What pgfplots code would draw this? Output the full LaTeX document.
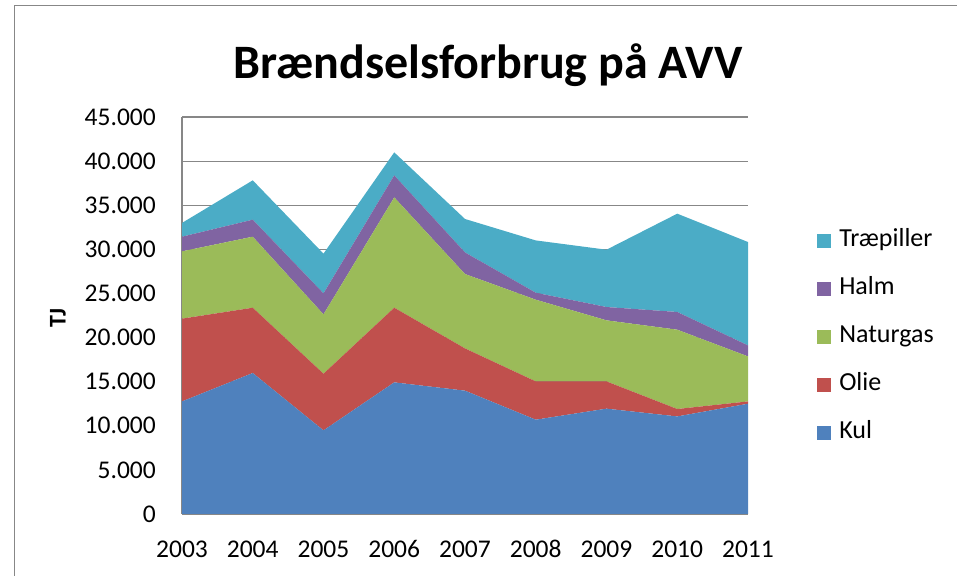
\documentclass[border=0pt]{standalone}
\usepackage{fontspec}
\setmainfont{Carlito}
\usepackage{pgfplots}
\pgfplotsset{compat=1.18}
\definecolor{kul}{HTML}{4F81BD}
\definecolor{olie}{HTML}{C0504D}
\definecolor{natur}{HTML}{9BBB59}
\definecolor{halm}{HTML}{8064A2}
\definecolor{trae}{HTML}{4BACC6}
\definecolor{gridc}{HTML}{878787}
\begin{document}
\begin{tikzpicture}[x=1pt,y=1pt]
\useasboundingbox (0,0) rectangle (957,575);
\draw[gridc, line width=1pt] (14,-5) -- (14,569) -- (970,569);
\node[font=\fontsize{48}{50}\selectfont\bfseries, anchor=base] at (488,496) {Brændselsforbrug på AVV};
\node[font=\fontsize{24}{26}\selectfont\bfseries, rotate=90] at (58,257) {TJ};
\begin{axis}[
  at={(182pt,61pt)}, anchor=south west,
  scale only axis, width=566pt, height=397pt,
  xmin=2003, xmax=2011, ymin=0, ymax=45000,
  xtick={2003,...,2011}, ytick={0,5000,...,45000},
  axis x line*=bottom, axis y line*=left,
  axis line style={gridc, line width=1.2pt, -},
  major tick length=0pt,
  ymajorgrids, grid style={gridc, line width=1.2pt},
  stack plots=y,
  ticklabel style={font=\fontsize{25.5}{28}\selectfont, inner sep=0pt},
  /pgf/number format/assume math mode=true,
  /pgf/number format/1000 sep={.},
  xticklabel style={/pgf/number format/1000 sep={}, anchor=base, yshift=-43pt},
  yticklabel style={xshift=-26pt},
  scaled y ticks=false,
  legend style={draw=none, fill=none, at={(axis description cs:1.122,0.717)}, anchor=north west,
    font=\fontsize{26}{28}\selectfont, row sep=26pt, inner sep=0pt,
    nodes={inner sep=0pt, text height=17pt, text depth=5pt}},
  legend cell align=left,
  reverse legend,
  legend image code/.code={\fill[#1] (0pt,-7pt) rectangle (14pt,7pt);},
  every axis plot/.append style={draw=none},
]
\addplot[fill=kul, draw=none] coordinates {(2003,12760) (2004,15980) (2005,9480) (2006,14920) (2007,13980) (2008,10690) (2009,11940) (2010,11060) (2011,12500)} \closedcycle;
\addlegendentry{\hspace{8pt}Kul}
\addplot[fill=olie, draw=none] coordinates {(2003,9380) (2004,7400) (2005,6420) (2006,8460) (2007,4790) (2008,4340) (2009,3090) (2010,840) (2011,260)} \closedcycle;
\addlegendentry{\hspace{8pt}Olie}
\addplot[fill=natur, draw=none] coordinates {(2003,7630) (2004,8050) (2005,6730) (2006,12510) (2007,8430) (2008,9260) (2009,6920) (2010,8990) (2011,5100)} \closedcycle;
\addlegendentry{\hspace{8pt}Naturgas}
\addplot[fill=halm, draw=none] coordinates {(2003,1660) (2004,1930) (2005,2380) (2006,2490) (2007,2450) (2008,790) (2009,1510) (2010,2010) (2011,1250)} \closedcycle;
\addlegendentry{\hspace{8pt}Halm}
\addplot[fill=trae, draw=none] coordinates {(2003,1560) (2004,4460) (2005,4500) (2006,2610) (2007,3790) (2008,5930) (2009,6500) (2010,11140) (2011,11720)} \closedcycle;
\addlegendentry{\hspace{8pt}Træpiller}
\end{axis}
\end{tikzpicture}
\end{document}
